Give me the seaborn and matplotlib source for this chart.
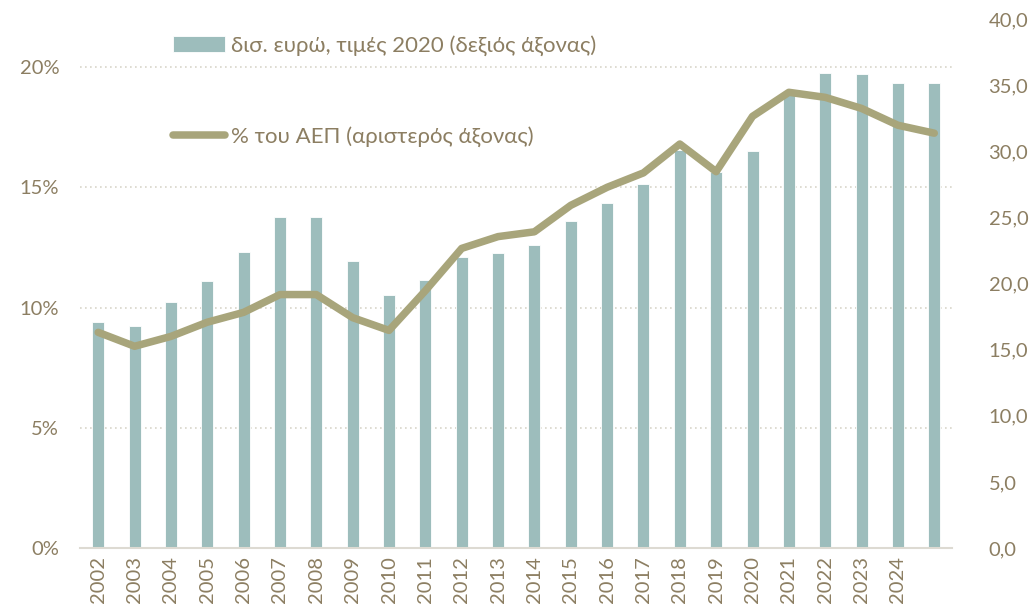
import numpy as np
import pandas as pd
import seaborn as sns
import matplotlib.pyplot as plt
from matplotlib.ticker import PercentFormatter, FuncFormatter

# data
years = [2002, 2003, 2004, 2005, 2006, 2007, 2008, 2009, 2010, 2011, 2012, 2013,
         2014, 2015, 2016, 2017, 2018, 2019, 2020, 2021, 2022, 2023, 2024, 2025]
year_labels = [str(y) for y in years[:-1]] + ['']
bn_eur = [17.1, 16.8, 18.6, 20.2, 22.4, 25.0, 25.05, 21.7, 19.15, 20.3, 22.0, 22.3,
          22.9, 24.7, 26.1, 27.5, 30.1, 28.4, 30.0, 34.4, 35.95, 35.8, 35.15, 35.15]
gdp_pct = [8.97, 8.39, 8.8, 9.39, 9.8, 10.54, 10.54, 9.58, 9.05, 10.7, 12.46, 12.95,
           13.15, 14.25, 15.0, 15.6, 16.8, 15.65, 17.95, 18.95, 18.74, 18.28, 17.58, 17.25]

bar_label = 'δισ. ευρώ, τιμές 2020 (δεξιός άξονας)'
line_label = '% του ΑΕΠ (αριστερός άξονας)'

df = pd.DataFrame({'year': [str(y) for y in years], 'bn': bn_eur,
                   'pct': np.array(gdp_pct) / 100})
df['pos'] = np.arange(len(df))

sns.set_style('white')
plt.rcParams['font.family'] = ['Lato', 'DejaVu Sans']

text_col = '#8C7E62'
bar_col = '#9DBDBC'
line_col = '#A8A57B'
grid_col = '#D8D5CA'

fig = plt.figure(figsize=(10.3, 6.11), dpi=100)
ax = fig.add_axes([0.0777, 0.103, 0.847, 0.866])
ax2 = ax.twinx()

# bars go on the bottom axes (right-hand scale), line on top (left-hand scale)
sns.barplot(data=df, x='year', y='bn', ax=ax, color=bar_col, width=0.33,
            saturation=1, edgecolor='white', linewidth=0.6, label=bar_label)
sns.lineplot(data=df, x='pos', y='pct', ax=ax2, color=line_col, linewidth=5.4,
             solid_capstyle='round', label=line_label)

bar_max, pct_max = 40, 0.22
ax.set_ylim(0, bar_max)
ax2.set_ylim(0, pct_max)
ax.set_xlim(-0.5, len(years) - 0.5)

ax.yaxis.tick_right()
ax2.yaxis.tick_left()
ax.set_yticks(np.arange(0, 41, 5))
ax.yaxis.set_major_formatter(FuncFormatter(lambda v, p: f'{v:.1f}'.replace('.', ',')))
ax2.set_yticks([0, 0.05, 0.10, 0.15, 0.20])
ax2.yaxis.set_major_formatter(PercentFormatter(1.0, decimals=0))

# gridlines of the left (%) scale, drawn behind the bars
pct_grid = np.array([0.05, 0.10, 0.15, 0.20])
ax.set_yticks(pct_grid * bar_max / pct_max, minor=True)
ax.set_axisbelow(True)
ax.grid(which='minor', axis='y', linestyle=(0, (1, 2)), color=grid_col, linewidth=1.2)
ax.grid(which='major', visible=False)

ax.set_xticks(range(len(years)))
ax.set_xticklabels(year_labels, rotation=90)
ax.set_xlabel('')
ax.set_ylabel('')
ax2.set_xlabel('')
ax2.set_ylabel('')

for a in (ax, ax2):
    for s in a.spines.values():
        s.set_visible(False)
    a.tick_params(which='both', length=0, labelsize=14.5, labelcolor=text_col)
ax.spines['bottom'].set_visible(True)
ax.spines['bottom'].set_color('#DDDAD2')
ax.spines['bottom'].set_linewidth(1.5)
ax.tick_params(axis='x', pad=6)
ax.tick_params(axis='y', pad=26)
ax2.tick_params(axis='y', pad=15)

h1, l1 = ax.get_legend_handles_labels()
h2, l2 = ax2.get_legend_handles_labels()
if ax.get_legend():
    ax.get_legend().remove()
if ax2.get_legend():
    ax2.get_legend().remove()
leg = ax2.legend(h1 + h2, l1 + l2, loc='upper left', bbox_to_anchor=(173 / 1030, 1 - 35 / 611),
                 bbox_transform=fig.transFigure, frameon=False, fontsize=16,
                 labelspacing=3.15, handlelength=2.35, handletextpad=0.25,
                 borderpad=0, borderaxespad=0, labelcolor=text_col)

fig.savefig('out.png', dpi=100)
